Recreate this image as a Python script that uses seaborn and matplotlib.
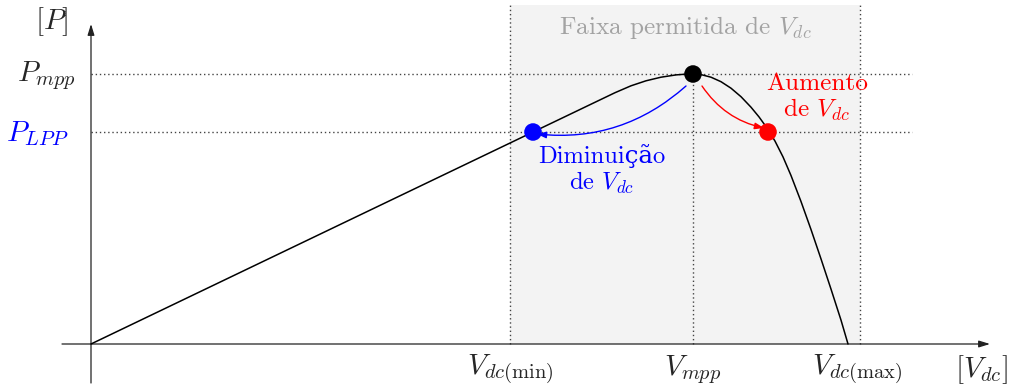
import matplotlib
matplotlib.use("Agg")
import matplotlib.pyplot as plt
import seaborn as sns
import pandas as pd

# P-V curve of the PV array (voltage, power), origin at the axes crossing
curve_v = [0, 442, 470, 500, 524, 540, 555, 570, 585, 595, 602,
           610, 620, 630, 640, 650, 660, 668, 676, 684, 692, 700,
           710, 720, 730, 740, 750, 757]
curve_p = [0, 212, 225.4, 239.8, 251.3, 258.2, 263.2, 266.8, 269.1, 269.85, 270,
           269.4, 266.8, 262.3, 255.8, 247.3, 236.8, 227.1, 216, 202.9, 187.1, 168.5,
           142.5, 114.5, 85.1, 54.9, 23.9, 0]

# Reference levels
v_min, v_mpp, v_max = 419, 602, 769
p_mpp, p_lpp = 270, 212

# Operating points: MPP, reduced voltage (LPP), increased voltage
point_names = ["mpp", "dim", "aum"]
point_v = [602, 442, 677]
point_p = [270, 212, 212]
point_colors = ["black", "blue", "red"]

sns.set_theme(style="white")
plt.rcParams["font.family"] = ["cmr10", "DejaVu Serif"]
plt.rcParams["mathtext.fontset"] = "cm"
plt.rcParams["axes.unicode_minus"] = False
plt.rcParams["axes.formatter.use_mathtext"] = True

fig = plt.figure(figsize=(10.13, 3.89), dpi=100)
ax = fig.add_axes([0, 0, 1, 1])
ax.set_xlim(-91, 922)
ax.set_ylim(-45, 344)
ax.axis("off")

# Allowed DC-voltage band
ax.fill_between([v_min, v_max], 0, 339, color="#f3f3f3", lw=0, zorder=0)

dot = dict(color="#444444", lw=1.0, linestyle=(0, (1, 2.0)), zorder=1)
ax.plot([v_min, v_min], [0, 339], **dot)
ax.plot([v_max, v_max], [0, 339], **dot)
ax.plot([v_mpp, v_mpp], [0, p_mpp], **dot)
ax.plot([0, 821], [p_mpp, p_mpp], **dot)
ax.plot([0, 821], [p_lpp, p_lpp], **dot)

# Axes with arrow heads
arrow = dict(arrowstyle="-|>,head_length=0.55,head_width=0.17",
             color="#222222", lw=0.9, shrinkA=0, shrinkB=0)
ax.annotate("", xy=(899, 0), xytext=(-29, 0), arrowprops=arrow, zorder=2)
ax.annotate("", xy=(0, 320), xytext=(0, -39), arrowprops=arrow, zorder=2)

# P-V curve
df = pd.DataFrame({"V": curve_v, "P": curve_p})
sns.lineplot(data=df, x="V", y="P", ax=ax, color="black", lw=1.1,
             sort=False, estimator=None, zorder=3)

# Operating points
pts = pd.DataFrame({"V": point_v, "P": point_p, "name": point_names})
sns.scatterplot(data=pts, x="V", y="P", hue="name",
                palette=dict(zip(point_names, point_colors)), s=160,
                edgecolor="none", legend=False, ax=ax, zorder=5)

# Perturbation arrows
ax.annotate("", xy=(446, 210), xytext=(595, 258),
            arrowprops=dict(arrowstyle="-|>,head_length=0.45,head_width=0.16",
                            color="blue", lw=1.0, shrinkA=0, shrinkB=0,
                            connectionstyle="arc3,rad=-0.22"), zorder=4)
ax.annotate("", xy=(673, 216), xytext=(611, 258),
            arrowprops=dict(arrowstyle="-|>,head_length=0.45,head_width=0.16",
                            color="red", lw=1.0, shrinkA=0, shrinkB=0,
                            connectionstyle="arc3,rad=0.2"), zorder=4)

fs = 18.2
mfs = 21
ax.text(594, 317, r"Faixa permitida de $V_{dc}$", color="#a3a3a3",
        fontsize=fs, ha="center", va="center")
ax.text(511, 174, "Diminuição\nde $V_{dc}$", color="blue", fontsize=fs - 0.5,
        ha="center", va="center", linespacing=1.1)
ax.text(726, 246, "Aumento\nde $V_{dc}$", color="red", fontsize=fs,
        ha="center", va="center", linespacing=1.1)

ax.text(-39, 322, r"$[P]$", fontsize=mfs, ha="center", va="center")
ax.text(-45, 268, r"$P_{mpp}$", fontsize=mfs, ha="center", va="center")
ax.text(-53, 210, r"$P_{LPP}$", fontsize=mfs, ha="center", va="center",
        color="blue")
ax.text(v_min, -26, r"$V_{dc(\mathrm{min})}$", fontsize=mfs, ha="center",
        va="center")
ax.text(v_mpp, -26, r"$V_{mpp}$", fontsize=mfs, ha="center", va="center")
ax.text(766, -26, r"$V_{dc(\mathrm{max})}$", fontsize=mfs, ha="center",
        va="center")
ax.text(891, -26, r"$[V_{dc}]$", fontsize=mfs, ha="center", va="center")

fig.savefig("out.png", dpi=100)
